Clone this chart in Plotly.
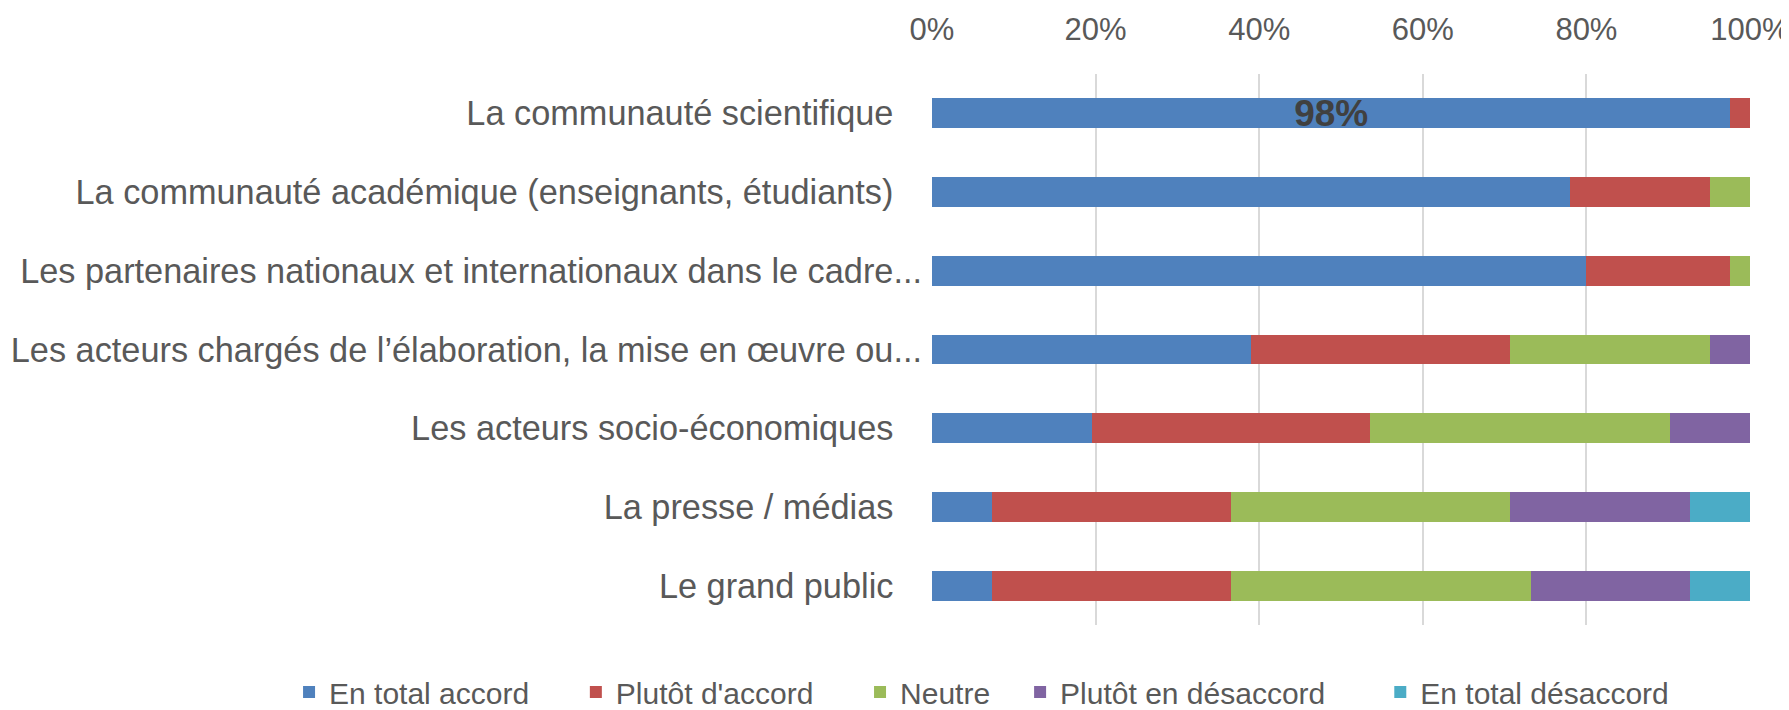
import plotly.graph_objects as go

categories = [
    "La communauté scientifique",
    "La communauté académique (enseignants, étudiants)",
    "Les partenaires nationaux et internationaux dans le cadre...",
    "Les acteurs chargés de l’élaboration, la mise en œuvre ou...",
    "Les acteurs socio-économiques",
    "La presse / médias",
    "Le grand public",
]
series_names = ["En total accord", "Plutôt d'accord", "Neutre",
                "Plutôt en désaccord", "En total désaccord"]
total_accord = [97.6, 78.0, 80.0, 39.0, 19.5, 7.3, 7.3]
plutot_accord = [2.4, 17.1, 17.5, 31.7, 34.1, 29.3, 29.3]
neutre = [0.0, 4.9, 2.5, 24.4, 36.6, 34.1, 36.6]
plutot_desaccord = [0.0, 0.0, 0.0, 4.9, 9.8, 22.0, 19.5]
total_desaccord = [0.0, 0.0, 0.0, 0.0, 0.0, 7.3, 7.3]
data_labels = ["98%", "", "", "", "", "", ""]
colors = ["#4f81bd", "#c0504d", "#9bbb59", "#8064a2", "#4bacc6"]
x_ticks = [0, 20, 40, 60, 80, 100]
x_tick_labels = ["0%", "20%", "40%", "60%", "80%", "100%"]

FONT = "Liberation Sans, Arial, sans-serif"
NB = "\u00a0"
# trailing spaces to mimic spreadsheet label / legend padding
labels_disp = [c if c.endswith("...") else c + NB * 3 for c in categories]
legend_pad = [5, 5, 3, 6, 0]
legend_disp = [n + NB * p for n, p in zip(series_names, legend_pad)]

fig = go.Figure()
all_series = [total_accord, plutot_accord, neutre, plutot_desaccord, total_desaccord]
for i, (name, vals) in enumerate(zip(legend_disp, all_series)):
    kw = {}
    if i == 0:
        kw = dict(text=data_labels, textposition="inside", insidetextanchor="middle",
                  textfont=dict(family=FONT, size=37, color="#404040", weight="bold"),
                  constraintext="none", textangle=0)
    fig.add_trace(go.Bar(
        y=labels_disp, x=vals, name=name, orientation="h",
        marker=dict(color=colors[i], line=dict(width=0)),
        hoverinfo="x+name", **kw))

# page body has an 8px margin: the figure is sized/margined to compensate
fig.update_layout(
    barmode="stack",
    bargap=0.62,
    width=1781, height=720,
    margin=dict(l=924, r=39, t=66, b=103, autoexpand=False),
    paper_bgcolor="white", plot_bgcolor="white",
    font=dict(family=FONT, color="#595959", size=31),
    showlegend=True,
    legend=dict(orientation="h", x=-0.786, xanchor="left",
                y=-0.1216, yanchor="middle",
                font=dict(size=30, color="#595959"),
                traceorder="normal", itemwidth=30),
    xaxis=dict(side="top", range=[0, 100], tickvals=x_ticks, ticktext=x_tick_labels,
               showgrid=True, gridcolor="#d9d9d9", gridwidth=2, zeroline=False,
               showline=False, ticks="", ticklabelstandoff=27, automargin=False,
               ticklabeloverflow="allow",
               tickfont=dict(size=31, color="#595959")),
    yaxis=dict(autorange="reversed", showgrid=False, showline=False, ticks="",
               ticklabelstandoff=9, automargin=False,
               tickfont=dict(size=34.3, color="#595959")),
)
fig.write_html("out.html")
